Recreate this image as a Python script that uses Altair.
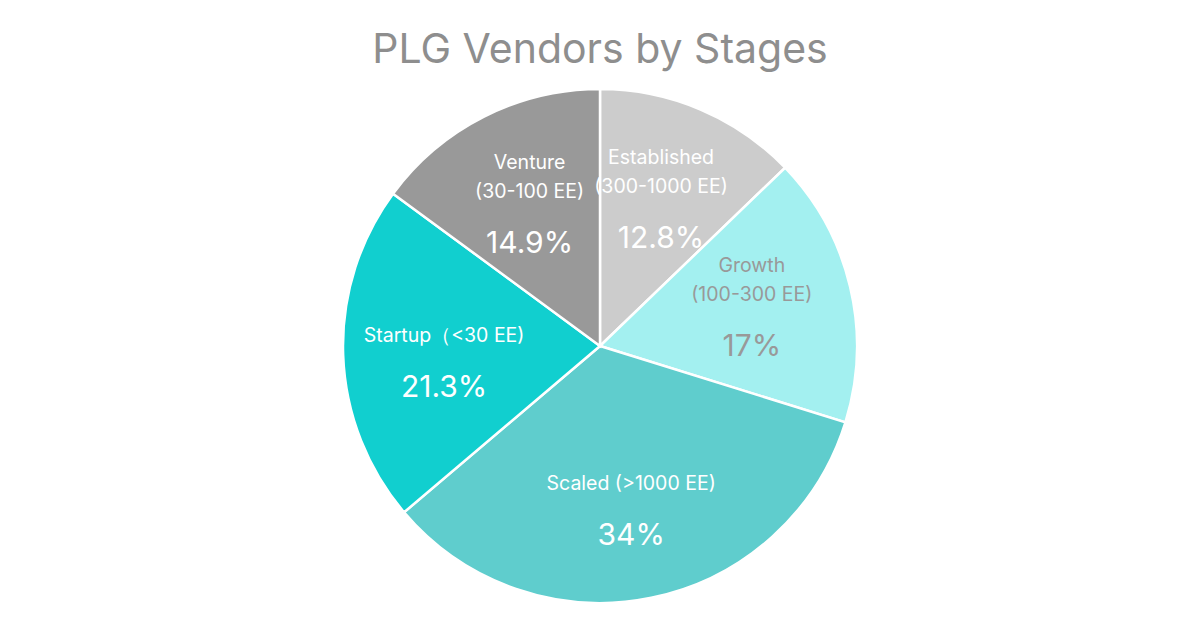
import altair as alt
import pandas as pd

stages = ["Established", "Growth", "Scaled", "Startup", "Venture"]
line1 = ["Established", "Growth", "", "", "Venture"]
line2 = ["(300-1000 EE)", "(100-300 EE)", "Scaled (>1000 EE)", "Startup（<30 EE)", "(30-100 EE)"]
values = [12.8, 17, 34, 21.3, 14.9]
pct_labels = ["12.8%", "17%", "34%", "21.3%", "14.9%"]
colors = ["#cccccc", "#a3f0f0", "#5fcdcd", "#11cfcf", "#999999"]

df = pd.DataFrame({
    "stage": stages,
    "line1": line1,
    "line2": line2,
    "value": values,
    "pct": pct_labels,
    "order": list(range(len(stages))),
})

FONT = "Inter"
CX, CY, R = 592, 258, 257
LR = 156

base = alt.Chart(df).encode(
    theta=alt.Theta("value:Q", stack=True),
    order=alt.Order("order:Q"),
    x=alt.value(CX),
    y=alt.value(CY),
)

arcs = base.mark_arc(radius=R, stroke="white", strokeWidth=2.5).encode(
    color=alt.Color("stage:N", scale=alt.Scale(domain=stages, range=colors), legend=None)
)

text_color = alt.condition(alt.datum.stage == "Growth", alt.value("#999999"), alt.value("white"))

t1 = base.mark_text(radius=LR, dy=-44, fontSize=19.5, font=FONT).encode(
    text="line1:N", color=text_color
)
t2 = base.mark_text(radius=LR, dy=-15, fontSize=19.5, font=FONT).encode(
    text="line2:N", color=text_color
)
pcts = base.mark_text(radius=LR, dy=37, fontSize=30, font=FONT).encode(
    text="pct:N", color=text_color
)

chart = alt.layer(arcs, t1, t2, pcts).properties(
    width=1184,
    height=532,
    autosize="none",
    padding={"top": 80, "left": 0, "right": 0, "bottom": 0},
    title=alt.TitleParams("PLG Vendors by Stages", fontSize=41, font=FONT, fontWeight="normal",
                          color="#8e8e8e", anchor="middle", offset=12),
).configure_view(stroke=None)

chart.save("out.html", embed_options={"renderer": "svg", "actions": False})
